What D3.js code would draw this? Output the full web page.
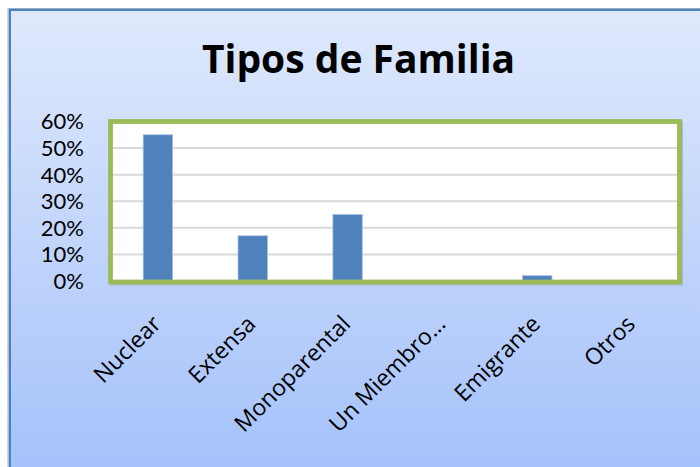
<!DOCTYPE html>
<html>
<head>
<meta charset="utf-8">
<script src="https://cdn.jsdelivr.net/npm/d3@7"></script>
<style>
  html, body { margin: 0; padding: 0; background: #fff; }
  text { font-family: 'Open Sans', sans-serif; fill: #000; }
  .ytick { font-family: Lato, 'Open Sans', sans-serif; }
</style>
</head>
<body>
<div class="chart"></div>
<script>
'use strict'

const d3 = window.d3
const width = 700
const height = 467

const categories = [ 'Nuclear', 'Extensa', 'Monoparental', 'Un Miembro…', 'Emigrante', 'Otros' ]
const values = [ 0.55, 0.17, 0.25, 0, 0.02, 0 ]
const yTicks = [ 0, 0.1, 0.2, 0.3, 0.4, 0.5, 0.6 ]
const title = 'Tipos de Familia'

const plot = { left: 110.5, right: 679.5, top: 121.5, bottom: 281 }

const svg = d3.select('.chart').append('svg')
    .attr('width', width)
    .attr('height', height)

const grad = svg.append('defs').append('linearGradient')
    .attr('id', 'bg')
    .attr('x1', 0).attr('y1', 0)
    .attr('x2', 0).attr('y2', 1)
grad.append('stop').attr('offset', '0%').attr('stop-color', '#dfe9fc')
grad.append('stop').attr('offset', '100%').attr('stop-color', '#a2c0fa')

// chart area (runs off the right and bottom edges)
svg.append('rect')
    .attr('x', 7.5).attr('y', 8.5)
    .attr('width', 720).attr('height', 480)
    .attr('fill', 'none')
    .attr('stroke', '#d8d8d8')
    .attr('stroke-width', 1)
svg.append('rect')
    .attr('x', 9.75).attr('y', 9.75)
    .attr('width', 720).attr('height', 480)
    .attr('fill', 'url(#bg)')
    .attr('stroke', '#4f81bd')
    .attr('stroke-width', 2.5)

svg.append('text')
    .attr('x', 358.5)
    .attr('y', 73)
    .attr('text-anchor', 'middle')
    .style('font-size', '39px')
    .style('font-weight', 'bold')
    .text(title)

const x = d3.scaleBand()
    .domain(categories)
    .range([ plot.left, plot.right ])
    .paddingInner(0.69)
    .paddingOuter(0.345)

const y = d3.scaleLinear()
    .domain([ 0, 0.6 ])
    .range([ plot.bottom, plot.top ])

// plot area, shadow first
svg.append('rect')
    .attr('x', plot.left + 1.5).attr('y', plot.top + 1.5)
    .attr('width', plot.right - plot.left).attr('height', plot.bottom - plot.top + 1)
    .attr('fill', 'none')
    .attr('stroke', '#a9b7c9')
    .attr('stroke-width', 4)
svg.append('rect')
    .attr('x', plot.left).attr('y', plot.top)
    .attr('width', plot.right - plot.left).attr('height', plot.bottom - plot.top + 1)
    .attr('fill', '#fff')

svg.selectAll('.grid')
      .data(yTicks.slice(0, -1))
    .enter().append('line')
      .attr('class', 'grid')
      .attr('x1', plot.left)
      .attr('x2', plot.right)
      .attr('y1', d => y(d))
      .attr('y2', d => y(d))
      .attr('stroke', '#d9d9d9')
      .attr('stroke-width', 2)

svg.selectAll('.bar')
      .data(values)
    .enter().append('rect')
      .attr('class', 'bar')
      .attr('x', (d, i) => x(categories[i]))
      .attr('width', x.bandwidth())
      .attr('y', d => y(d))
      .attr('height', d => y(0) - y(d))
      .attr('fill', '#4f81bd')
      .attr('stroke', '#a7bfe0')
      .attr('stroke-width', d => d > 0 ? 0.8 : 0)

svg.append('rect')
    .attr('x', plot.left).attr('y', plot.top)
    .attr('width', plot.right - plot.left).attr('height', plot.bottom - plot.top + 1)
    .attr('fill', 'none')
    .attr('stroke', '#9bbb59')
    .attr('stroke-width', 4.8)

// y tick labels
svg.selectAll('.ytick')
      .data(yTicks)
    .enter().append('text')
      .attr('class', 'ytick')
      .attr('x', 84)
      .attr('y', d => y(d))
      .attr('dy', '0.36em')
      .attr('text-anchor', 'end')
      .style('font-size', '22px')
      .text(d3.format('.0%'))

// category labels, rotated
svg.selectAll('.xtick')
      .data(categories)
    .enter().append('text')
      .attr('class', 'xtick')
      .attr('transform', d => 'translate(' + (x(d) + x.bandwidth() / 2 - 7) + ',314) rotate(-45)')
      .attr('text-anchor', 'end')
      .attr('dy', '0.7em')
      .style('font-size', '23px')
      .text(d => d)
</script>
</body>
</html>
